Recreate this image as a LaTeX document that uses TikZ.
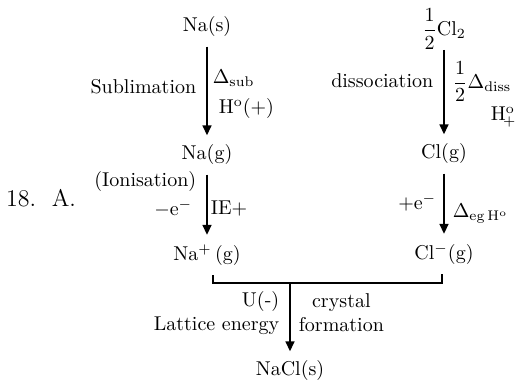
\documentclass[tikz,border=0pt]{standalone}
\usepackage{amsmath}
\usetikzlibrary{arrows.meta, positioning, calc}
\tikzset{
  every picture/.style={line width=0.7pt},
  species/.style={inner sep=4.5pt, font=\normalsize},
  arrow/.style={-{Triangle[length=5pt, width=4.5pt]}, line width=0.8pt},
  lbl/.style={font=\normalsize, inner sep=0pt},
}

\begin{document}
\begin{tikzpicture}[x=0.5pt, y=-0.5pt]
  \useasboundingbox (0,0) rectangle (525,383);
  % the species
  \node[species] (nas) at (207,27) {Na(s)};
  \node[species, inner sep=0pt] (cl2) at (444,29) {$\dfrac{1}{2}$Cl$_2$};
  \node[species] (nag) at (207,155) {Na(g)};
  \node[species] (clg) at (444,154) {Cl(g)};
  \node[species] (nap) at (207,255) {Na$^+$\,(g)};
  \node[species] (clm) at (444,254) {Cl$^-$(g)};
  \node[species] (nacl) at (290,371) {NaCl(s)};
  \node[font=\large] (num) at (41,198) {18.\ \ A.};
  % sodium side
  \draw[arrow] (nas) -- (nag)
    node[lbl, left=5pt, pos=0.45] (sub) {Sublimation}
    node[lbl, right=2.5pt, pos=0.36] (dsub) {$\Delta_{\mathrm{sub}}$}
    node[lbl, right=5.5pt, pos=0.7] (hsub) {H$^{\mathrm{o}}$(+)};
  \draw[arrow] (nag) -- (nap)
    node[lbl, left=5pt, pos=0.12] (ion) {(Ionisation)}
    node[lbl, left=7pt, pos=0.56] (mie) {$-$e$^-$}
    node[lbl, right=1.5pt, pos=0.56] (ie) {IE+};
  % chlorine side
  \draw[arrow] (cl2) -- (clg)
    node[lbl, left=5pt, pos=0.37] (dis) {dissociation}
    node[lbl, right=4pt, pos=0.38] (ddis) {$\dfrac{1}{2}\Delta_{\mathrm{diss}}$}
    node[lbl, right=23pt, pos=0.8] (hdis) {H$^{\mathrm{o}}_{\!+}$};
  \draw[arrow] (clg) -- (clm)
    node[lbl, left=3.5pt, pos=0.48] (pe) {+e$^-$}
    node[lbl, right=4pt, pos=0.66] (deg) {$\Delta_{\mathrm{eg}\,\mathrm{H}^{\mathrm{o}}}$};
  % lattice step
  \coordinate (join) at (290,283);
  \draw ([xshift=3pt]nap.south) |- (join) -| ([xshift=-1pt]clm.south);
  \draw[arrow] (join) -- (nacl)
    node[lbl, left=5pt, pos=0.44, align=right] (latt) {U(-)\\Lattice energy}
    node[lbl, right=4pt, pos=0.44, align=center] (cryst) {crystal\\formation};
\end{tikzpicture}
\end{document}
